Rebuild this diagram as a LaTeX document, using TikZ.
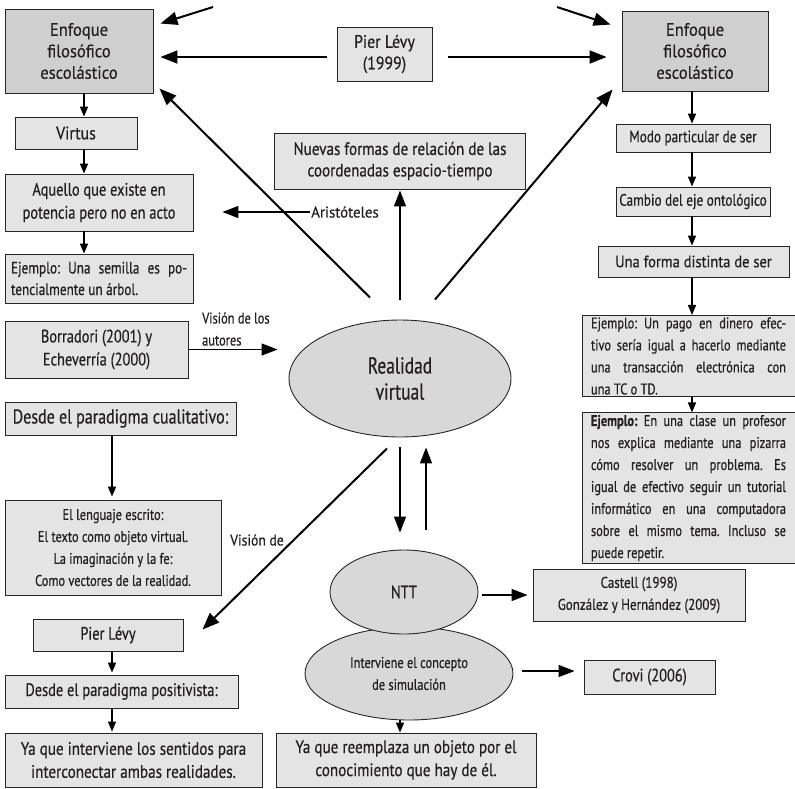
\documentclass[tikz,border=0pt]{standalone}
\usepackage{fontspec}
\setmainfont[FakeStretch=0.8,FakeBold=0.5]{PT Sans}
\newfontfamily\sA[FakeStretch=0.8,FakeBold=0.5]{PT Sans}
\newfontfamily\sAb[FakeStretch=0.84,FakeBold=0.5]{PT Sans}
\newfontfamily\sB[FakeStretch=0.88,FakeBold=0.5]{PT Sans}
\newfontfamily\sBb[FakeStretch=0.92,FakeBold=0.5]{PT Sans}
\newfontfamily\sC[FakeStretch=0.96,FakeBold=0.5]{PT Sans}
\newfontfamily\sD[FakeStretch=0.76,FakeBold=0.5]{PT Sans}
\usetikzlibrary{shapes.geometric,arrows.meta,calc}
\definecolor{darkfill}{RGB}{207,207,207}
\definecolor{lightfill}{RGB}{228,228,228}
\definecolor{ellfill}{RGB}{216,216,216}
\definecolor{txt}{RGB}{35,31,32}
\newcommand\fsA{\fontsize{16.5}{21.5}\selectfont}
\newcommand\fsB{\fontsize{18}{23}\selectfont}
\newcommand\fsBt{\fontsize{18}{21.5}\selectfont}
\newcommand\fsC{\fontsize{20}{24}\selectfont}
\newcommand\fsD{\fontsize{15.5}{22}\selectfont}
\newcommand\fsE{\fontsize{23}{26}\selectfont}
\tikzset{
 box/.style={draw=black!85, line width=0.9pt, fill=lightfill, inner sep=2pt, align=center, text=txt},
 darkbox/.style={box, fill=darkfill},
 ell/.style={ellipse, draw=black!85, line width=0.9pt, fill=ellfill, inner sep=0pt, align=center, text=txt},
 bigarrow/.style={line width=1.3pt, -{Triangle[length=16pt,width=12pt]}},
 thickarrow/.style={line width=2pt, -{Triangle[length=17pt,width=13pt]}},
 smallarrow/.style={line width=1.5pt, -{Triangle[length=10pt,width=8pt]}},
 lbl/.style={inner sep=1pt, align=left, text=txt},
 jbox/.style={box, align=justify, font=\sA\fsD},
}
\begin{document}
\begin{tikzpicture}[x=1pt,y=-1pt]
\useasboundingbox (0,0) rectangle (795,788);
\hyphenpenalty=10000
\frenchspacing
% left column
\node[darkbox, minimum width=148, minimum height=84, font=\sBb\fsBt] (enfL) at (79,51) {Enfoque\\filosófico\\escolástico};
\node[box, minimum width=95, minimum height=54, font=\sB\fsBt] (pier1) at (384.5,54) {Pier Lévy\\(1999)};
\node[darkbox, minimum width=146, minimum height=80, font=\sBb\fsBt] (enfR) at (695,51) {Enfoque\\filosófico\\escolástico};
\node[box, minimum width=122, minimum height=32, font=\sB\fsB] (virtus) at (76,133) {Virtus};
\node[box, minimum width=188, minimum height=57, font=\sA\fsB] (aquello) at (99,202.5) {Aquello que existe en\\potencia pero no en acto};
\node[jbox, minimum width=188, minimum height=49, text width=176, font=\sA\fsA] (semilla) at (99,278.5) {Ejemplo: Una semilla es po-\linebreak tencialmente un árbol.};
\node[box, minimum width=251, minimum height=56, font=\sAb\fsBt] (nuevas) at (400,161) {Nuevas formas de relación de las\\coordenadas espacio-tiempo};
\node[box, minimum width=183, minimum height=57, font=\sA\fsB] (borr) at (96.5,349.5) {Borradori (2001) y\\Echeverría (2000)};
\node[ell, minimum width=222, minimum height=117, font=\sD\fsE] (real) at (400,378.5) {Realidad\\virtual};
\node[box, minimum width=231, minimum height=33, font=\sA\fsC] (cual) at (120.5,418.5) {Desde el paradigma cualitativo:};
\node[box, minimum width=216, minimum height=95, font=\sA\fsD] (leng) at (113,547.5) {El lenguaje escrito:\\El texto como objeto virtual.\\La imaginación y la fe:\\Como vectores de la realidad.};
\node[box, minimum width=150, minimum height=32, font=\sA\fsB] (pier2) at (108,635) {Pier Lévy};
\node[box, minimum width=233, minimum height=33, font=\sA\fsB] (posit) at (121.5,691.5) {Desde el paradigma positivista:};
\node[box, minimum width=257, minimum height=54, font=\sAb\fsB] (sent) at (133.5,760) {Ya que interviene los sentidos para\\interconectar ambas realidades.};
% right column
\node[box, minimum width=154, minimum height=28, font=\sA\fsA] (modo) at (693,138) {Modo particular de ser};
\node[box, minimum width=154, minimum height=29, font=\sA\fsA] (cambio) at (693,201.5) {Cambio del eje ontológico};
\node[box, minimum width=191, minimum height=31, font=\sB\fsA] (forma) at (693.5,261.5) {Una forma distinta de ser};
\node[jbox, minimum width=213, minimum height=78, text width=195] (pago) at (688.5,356) {Ejemplo: Un pago en dinero efec-\linebreak tivo sería igual a hacerlo mediante\linebreak una transacción electrónica con\linebreak una TC o TD.};
\node[jbox, minimum width=213, minimum height=142, text width=195] (clase) at (688.5,488) {\textbf{Ejemplo:} En una clase un profesor\linebreak nos explica mediante una pizarra\linebreak cómo resolver un problema. Es\linebreak igual de efectivo seguir un tutorial\linebreak informático en una computadora\linebreak sobre el mismo tema. Incluso se\linebreak puede repetir.};
% bottom middle
\node[ell, minimum width=208, minimum height=93, font=\sA\fsD] (interv) at (409,673.5) {Interviene el concepto\\de simulación};
\node[ell, minimum width=148, minimum height=84, font=\sA\fsB] (ntt) at (404,592) {NTT};
\node[box, minimum width=212, minimum height=52, font=\sAb\fsD] (castell) at (639,595) {Castell (1998)\\González y Hernández (2009)};
\node[box, minimum width=131, minimum height=34, font=\sA\fsB] (crovi) at (649.5,677) {Crovi (2006)};
\node[box, minimum width=260, minimum height=54, font=\sAb\fsB] (reempl) at (406,760) {Ya que reemplaza un objeto por el\\conocimiento que hay de él.};
% labels
\node[lbl, font=\sC\fsD] (arist) at (345,212) {Aristóteles};
\node[lbl, anchor=west, font=\sA\fsD] (vis1) at (201,329) {Visión de los\\autores};
\node[lbl, font=\sB\fsD] (vis2) at (257,540) {Visión de};
% helper coordinates
\coordinate (xL) at (84,0);
\coordinate (xM) at (112,0);
\coordinate (xR) at (692,0);
\coordinate (tl) at (213,7);
\coordinate (tr) at (557,7);
% top arrows
\draw[thickarrow] (tl) -- ($(enfL.north east)+(7,15)$);
\draw[thickarrow] (tr) -- ($(enfR.north west)+(-11,14)$);
\draw[thickarrow] ($(pier1.west)+(-10,3)$) -- ($(enfL.east)+(7,6)$);
\draw[thickarrow] ($(pier1.east)+(16,3)$) -- ($(enfR.west)+(-15,6)$);
\draw[thickarrow] ($(real.north)+(-30,-22)$) -- ($(enfL.south east)+(6,-5)$);
\draw[thickarrow] ($(real.north)+(35,-20)$) -- ($(enfR.south west)+(-9,-2)$);
\draw[bigarrow] ($(real.north)+(0,-20)$) -- ($(nuevas.south)+(0,1)$);
\draw[bigarrow, shorten >=29pt] (arist.west) -- (arist.west -| aquello.east);
\draw[bigarrow, shorten >=11pt] (borr.east) -- (borr.east -| real.west);
% left chains
\draw[smallarrow] (enfL.south -| xL) -- (virtus.north -| xL);
\draw[smallarrow] (virtus.south -| xL) -- (aquello.north -| xL);
\draw[smallarrow] (aquello.south -| xL) -- (semilla.north -| xL);
\draw[smallarrow] (cual.south -| xM) -- ($(leng.north -| xM)+(0,-3)$);
\draw[smallarrow] (pier2.south -| xM) -- ($(posit.north -| xM)+(0,-2)$);
\draw[smallarrow] (posit.south -| xM) -- ($(sent.north -| xM)+(0,-1)$);
% right chain
\draw[smallarrow] (enfR.south -| xR) -- (modo.north -| xR);
\draw[smallarrow] (modo.south -| xR) -- (cambio.north -| xR);
\draw[smallarrow] (cambio.south -| xR) -- (forma.north -| xR);
\draw[smallarrow] (forma.south -| xR) -- (pago.north -| xR);
\draw[smallarrow] (pago.south -| xR) -- (clase.north -| xR);
% lower arrows
\draw[thickarrow] ($(real.south)+(-13,11)$) -- ($(pier2.north east)+(19,11)$);
\draw[bigarrow] ($(real.south)+(0,10)$) -- ($(ntt.north)+(-4,-17)$);
\draw[bigarrow] ($(ntt.north)+(22,-20)$) -- ($(real.south)+(26,10)$);
\draw[bigarrow] ($(ntt.east)+(4,3)$) -- ($(castell.west)+(-5,0)$);
\draw[bigarrow] ($(interv.east)+(9,-2.5)$) -- ($(crovi.west)+(-9,-6)$);
\draw[smallarrow] ($(interv.south)+(-9,0)$) -- ($(reempl.north)+(-6,0)$);
\end{tikzpicture}
\end{document}
